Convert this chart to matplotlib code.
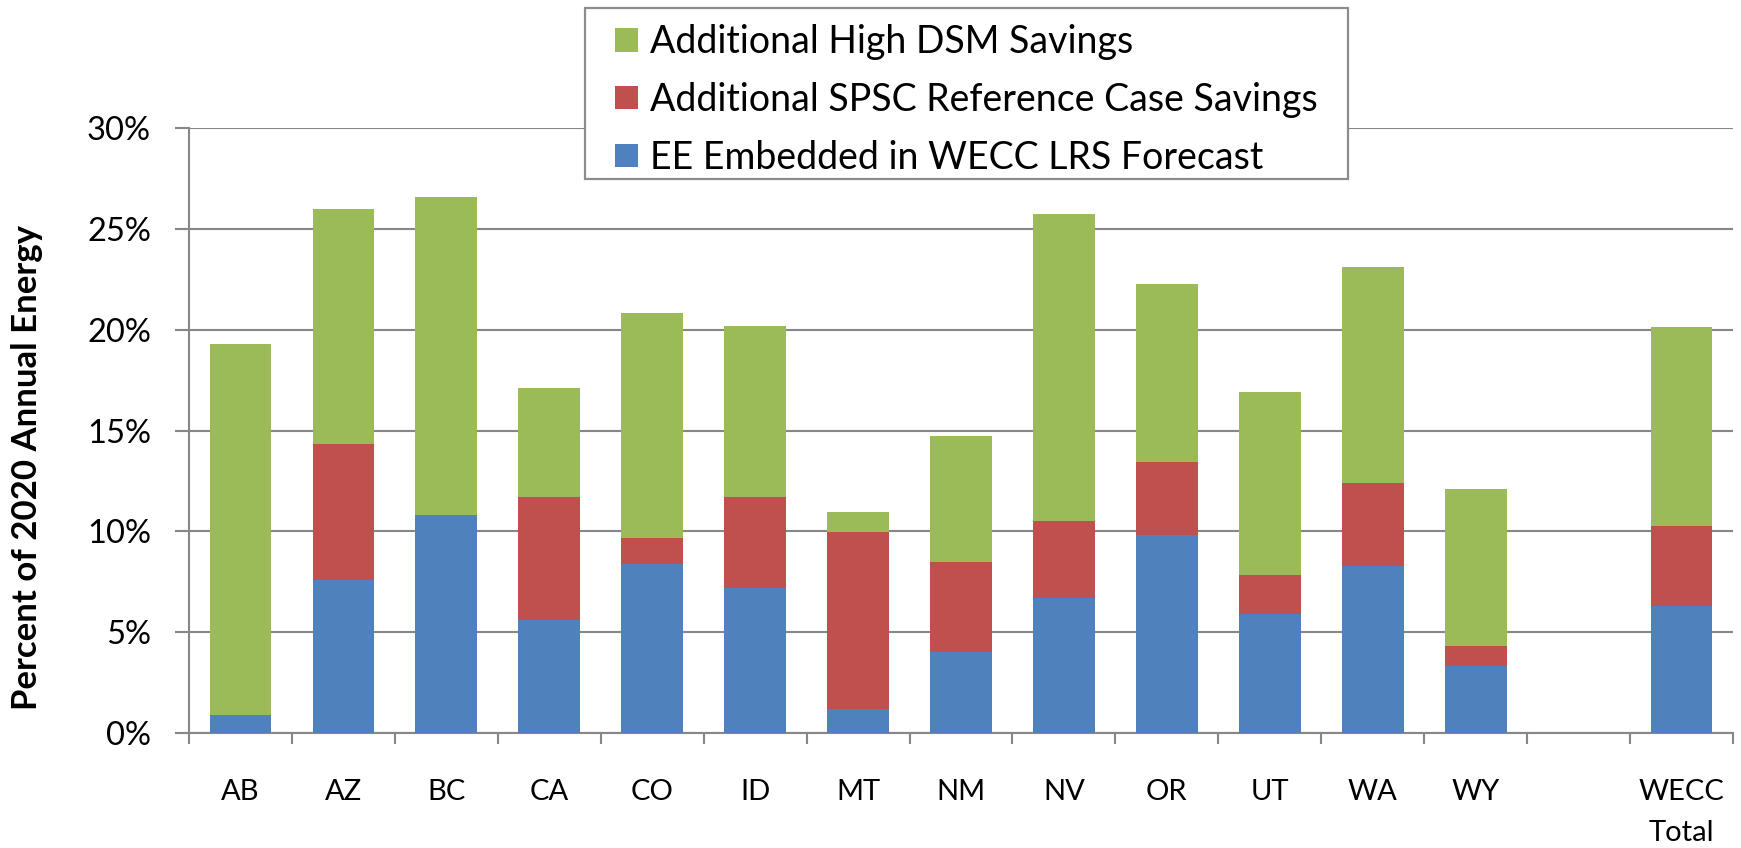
import matplotlib
matplotlib.use("Agg")
import matplotlib.pyplot as plt
from matplotlib.patches import Rectangle
import numpy as np

plt.rcParams['font.family'] = ['Lato', 'DejaVu Sans']

categories = ["AB", "AZ", "BC", "CA", "CO", "ID", "MT", "NM", "NV", "OR", "UT", "WA", "WY", "", "WECC\nTotal"]
ee_embedded = [0.9, 7.6, 10.8, 5.6, 8.4, 7.2, 1.2, 4.0, 6.7, 9.8, 5.9, 8.3, 3.3, 0.0, 6.3]
spsc_reference = [0.0, 6.75, 0.0, 6.1, 1.25, 4.5, 8.75, 4.5, 3.8, 3.65, 1.95, 4.1, 1.0, 0.0, 3.95]
high_dsm = [18.4, 11.65, 15.8, 5.4, 11.2, 8.5, 1.0, 6.25, 15.25, 8.8, 9.05, 10.7, 7.8, 0.0, 9.9]
series_labels = ["Additional High DSM Savings", "Additional SPSC Reference Case Savings",
                 "EE Embedded in WECC LRS Forecast"]
yticks = [0, 5, 10, 15, 20, 25, 30]

W, H = 1741, 848
DPI = 100
px = 72.0 / DPI  # points per pixel

fig = plt.figure(figsize=(W / DPI, H / DPI), dpi=DPI)
ax = fig.add_axes([189 / W, 1 - 733 / H, (1733 - 189) / W, (733 - 128) / H])

blue = "#4F81BD"
red = "#C0504D"
green = "#9BBB59"
grid = "#878787"

x = np.arange(len(categories))
ee = np.array(ee_embedded)
sp = np.array(spsc_reference)
hd = np.array(high_dsm)
bw = 0.6
b1 = ax.bar(x, ee, bw, color=blue, zorder=3)
b2 = ax.bar(x, sp, bw, bottom=ee, color=red, zorder=3)
b3 = ax.bar(x, hd, bw, bottom=ee + sp, color=green, zorder=3)

ax.set_xlim(-0.5, len(categories) - 0.5)
ax.set_ylim(0, 30)
ax.set_yticks(yticks)
ax.set_yticklabels([f"{v}%" for v in yticks], fontsize=23.5)
ax.yaxis.grid(True, color=grid, linewidth=2.1 * px, zorder=0)
ax.set_axisbelow(True)

ax.set_xticks(x)
ax.set_xticklabels(categories, fontsize=21, linespacing=1.7)
ax.set_xticks(np.arange(-0.5, len(categories), 1.0), minor=True)
ax.tick_params(axis='x', which='major', length=0, pad=46 * px)
ax.tick_params(axis='x', which='minor', length=11 * px, width=2.1 * px, color=grid)
ax.tick_params(axis='y', which='major', length=14 * px, width=2.1 * px, color=grid, pad=24 * px)

for side in ['top', 'right']:
    ax.spines[side].set_visible(False)
for side in ['left', 'bottom']:
    ax.spines[side].set_color(grid)
    ax.spines[side].set_linewidth(2.1 * px)

fig.text(27.5 / W, 1 - 468 / H, "Percent of 2020 Annual Energy", rotation=90,
         ha='center', va='center', fontsize=25, fontweight='bold')

# legend frame
frame = Rectangle((585 / W, 1 - 179 / H), (1348 - 585) / W, (179 - 8) / H,
                  transform=fig.transFigure, facecolor='white', edgecolor="#8c8c8c",
                  linewidth=2.2 * px, zorder=4)
fig.add_artist(frame)

fs = 27
leg = fig.legend([b3, b2, b1], series_labels, loc='upper left',
                 bbox_to_anchor=(615 / W, 1 - 24 / H), fontsize=fs,
                 frameon=False, handlelength=0.61, handleheight=0.59,
                 handletextpad=0.32, borderpad=0, labelspacing=0.585,
                 borderaxespad=0)
leg.set_zorder(5)

fig.savefig("out.png", dpi=DPI)
